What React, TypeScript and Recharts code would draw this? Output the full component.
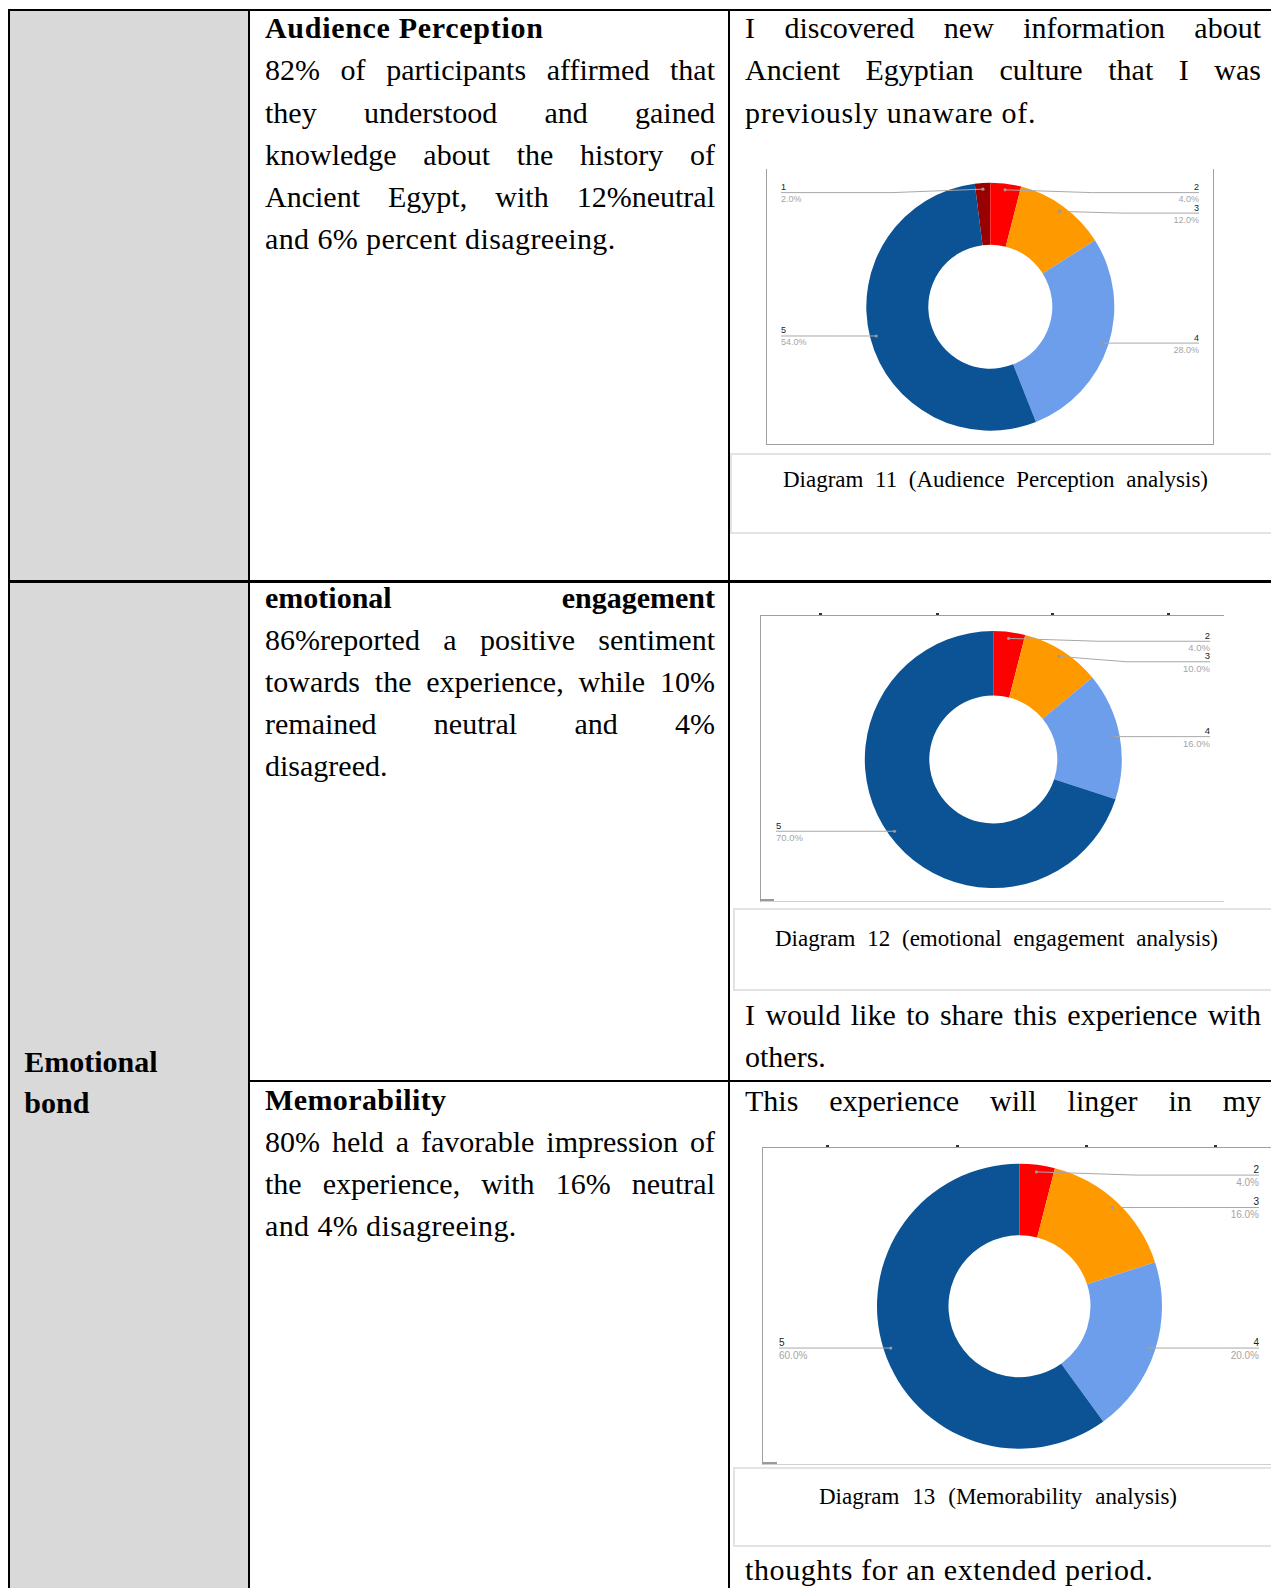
import React from 'react';
import { PieChart, Pie, Cell } from 'recharts';

// rating buckets and their shares (%) per diagram
const RATINGS_11 = ['1', '2', '3', '4', '5'];
const SHARES_11 = [2, 4, 12, 28, 54];

const RATINGS_12 = ['2', '3', '4', '5'];
const SHARES_12 = [4, 10, 16, 70];

const RATINGS_13 = ['2', '3', '4', '5'];
const SHARES_13 = [4, 16, 20, 60];

const RATING_COLORS: Record<string, string> = {
  '1': '#990000',
  '2': '#ff0000',
  '3': '#ff9900',
  '4': '#6d9eeb',
  '5': '#0b5394',
};

type Layout = {
  width: number;
  height: number;
  cx: number;
  cy: number;
  outer: number;
  inner: number;
  leftX: number;
  rightX: number;
  startAngle: number;
  fontSize: number;
};

// y of each leader line, pushed apart like google sheets does
function labelYs(values: number[], lay: Layout): number[] {
  const total = values.reduce((a, b) => a + b, 0);
  const r = lay.outer * 0.95;
  let acc = 0;
  const pts = values.map((v, i) => {
    const mid = lay.startAngle - ((acc + v / 2) / total) * 360;
    acc += v;
    const rad = (mid * Math.PI) / 180;
    return { i, x: lay.cx + r * Math.cos(rad), y: lay.cy - r * Math.sin(rad) };
  });
  const minY = lay.cy - lay.outer * 0.92;
  const out: number[] = [];
  [true, false].forEach((right) => {
    let prev = -Infinity;
    pts
      .filter((p) => p.x > lay.cx === right)
      .sort((a, b) => a.y - b.y)
      .forEach((p) => {
        const y = Math.max(p.y, minY, prev + 20.5);
        out[p.i] = y;
        prev = y;
      });
  });
  return out;
}

function makeLabel(names: string[], values: number[], lay: Layout) {
  const ys = labelYs(values, lay);
  return (props: any) => {
    const { cx, cy, midAngle, outerRadius, index, percent } = props;
    const rad = (midAngle * Math.PI) / 180;
    const r = outerRadius * 0.95;
    const dx = cx + r * Math.cos(rad);
    const dy = cy - r * Math.sin(rad);
    const right = dx > cx;
    const edge = right ? lay.rightX : lay.leftX;
    const ly = ys[index];
    const elbow = dx + (edge - dx) * 0.45;
    const anchor = right ? 'end' : 'start';
    return (
      <g key={`lbl-${index}`}>
        <polyline
          points={`${dx},${dy} ${elbow},${ly} ${edge},${ly}`}
          fill="none"
          stroke="#a8a8a8"
          strokeWidth={1}
        />
        <circle cx={dx} cy={dy} r={1.6} fill="#9a9a9a" />
        <text
          x={edge}
          y={ly - 2.5}
          textAnchor={anchor}
          fontSize={lay.fontSize}
          fill="#222"
          fontFamily="'Liberation Sans', Arial"
        >
          {names[index]}
        </text>
        <text
          x={edge}
          y={ly + lay.fontSize + 0.5}
          textAnchor={anchor}
          fontSize={lay.fontSize}
          fill="#a5a5a5"
          fontFamily="'Liberation Sans', Arial"
        >
          {(percent * 100).toFixed(1)}%
        </text>
      </g>
    );
  };
}

function Donut({ names, values, lay }: { names: string[]; values: number[]; lay: Layout }) {
  const data = names.map((n, i) => ({ name: n, value: values[i] }));
  return (
    <PieChart width={lay.width} height={lay.height} margin={{ top: 0, right: 0, bottom: 0, left: 0 }}>
      <Pie
        data={data}
        dataKey="value"
        nameKey="name"
        cx={lay.cx}
        cy={lay.cy}
        innerRadius={lay.inner}
        outerRadius={lay.outer}
        startAngle={lay.startAngle}
        endAngle={lay.startAngle - 360}
        stroke="none"
        labelLine={false}
        label={makeLabel(names, values, lay)}
        isAnimationActive={false}
      >
        {data.map((d) => (
          <Cell key={`c-${d.name}`} fill={RATING_COLORS[d.name]} />
        ))}
      </Pie>
    </PieChart>
  );
}

const sum11 = SHARES_11.reduce((a, b) => a + b, 0);

const LAY_11: Layout = {
  width: 446,
  height: 275,
  cx: 223.3,
  cy: 137.7,
  outer: 124,
  inner: 62,
  leftX: 14,
  rightX: 432,
  startAngle: 90 + (SHARES_11[0] / sum11) * 360,
  fontSize: 9,
};

const LAY_12: Layout = {
  width: 463,
  height: 285,
  cx: 232.3,
  cy: 143.5,
  outer: 128.5,
  inner: 64,
  leftX: 15,
  rightX: 449,
  startAngle: 90,
  fontSize: 9.5,
};

const LAY_13: Layout = {
  width: 509,
  height: 316,
  cx: 256.5,
  cy: 158.2,
  outer: 142.5,
  inner: 71,
  leftX: 16,
  rightX: 496,
  startAngle: 90,
  fontSize: 10,
};

function TextLine({
  x,
  w,
  base,
  text,
  bold,
  justify,
  size = 30,
  spacing = 0.4,
}: {
  x: number;
  w: number;
  base: number;
  text: string;
  bold?: boolean;
  justify?: boolean;
  size?: number;
  spacing?: number;
}) {
  const lh = size * 1.4;
  const top = base - ((lh - 1.107 * size) / 2 + 0.891 * size);
  return (
    <div
      style={{
        position: 'absolute',
        left: x,
        top,
        width: w,
        height: lh,
        lineHeight: `${lh}px`,
        fontSize: size,
        fontWeight: bold ? 700 : 400,
        letterSpacing: justify ? 0 : spacing,
        textAlign: justify ? 'justify' : 'left',
        textAlignLast: justify ? 'justify' : 'left',
        color: '#000',
      }}
    >
      {text}
    </div>
  );
}

const box = (left: number, top: number, width: number, height: number, bg: string) => (
  <div style={{ position: 'absolute', left, top, width, height, background: bg }} />
);

// little leftover marks sitting on the chart frames
const ticks = (xs: number[], y: number) =>
  xs.map((x) => <div key={`t-${x}-${y}`} style={{ position: 'absolute', left: x, top: y, width: 3, height: 2, background: '#333' }} />);

export default function App() {
  const MX = 265;
  const MW = 450;
  const RX = 745;
  const RW = 516;
  const step = 42.1;
  return (
    <div
      style={{
        position: 'absolute',
        left: 0,
        top: 0,
        width: 1271,
        height: 1588,
        overflow: 'hidden',
        background: '#fff',
        fontFamily: "'Liberation Serif', 'Times New Roman', serif",
      }}
    >
      {/* grey first column */}
      {box(10, 11, 238, 1577, '#d9d9d9')}

      {/* table rules */}
      {box(8, 9, 1263, 2, '#000')}
      {box(8, 9, 2, 1579, '#000')}
      {box(248, 9, 2, 1579, '#000')}
      {box(727.5, 9, 2, 1579, '#000')}
      {box(8, 580, 1263, 2.5, '#000')}
      {box(248, 1079.5, 1023, 2.5, '#000')}

      {/* middle column, row 1 */}
      <TextLine x={MX} w={MW} base={38.5} text="Audience Perception" bold spacing={0.7} />
      <TextLine x={MX} w={MW} base={38.5 + step} text="82% of participants affirmed that" justify />
      <TextLine x={MX} w={MW} base={38.5 + step * 2} text="they understood and gained" justify />
      <TextLine x={MX} w={MW} base={38.5 + step * 3} text="knowledge about the history of" justify />
      <TextLine x={MX} w={MW} base={38.5 + step * 4} text="Ancient Egypt, with 12%neutral" justify />
      <TextLine x={MX} w={MW} base={38.5 + step * 5} text="and 6% percent disagreeing." />

      {/* middle column, row 2 */}
      <TextLine x={MX} w={MW} base={607.7} text="emotional engagement" bold justify />
      <TextLine x={MX} w={MW} base={607.7 + step} text="86%reported a positive sentiment" justify />
      <TextLine x={MX} w={MW} base={607.7 + step * 2} text="towards the experience, while 10%" justify />
      <TextLine x={MX} w={MW} base={607.7 + step * 3} text="remained neutral and 4%" justify />
      <TextLine x={MX} w={MW} base={607.7 + step * 4} text="disagreed." spacing={0} />

      {/* middle column, row 3 */}
      <TextLine x={MX} w={MW} base={1110} text="Memorability" bold />
      <TextLine x={MX} w={MW} base={1110 + step} text="80% held a favorable impression of" justify />
      <TextLine x={MX} w={MW} base={1110 + step * 2} text="the experience, with 16% neutral" justify />
      <TextLine x={MX} w={MW} base={1110 + step * 3} text="and 4% disagreeing." />

      {/* left merged cell */}
      <TextLine x={24.3} w={220} base={1071.7} text="Emotional" bold spacing={0} />
      <TextLine x={24.3} w={220} base={1113} text="bond" bold spacing={0} />

      {/* right column, row 1 */}
      <TextLine x={RX} w={RW} base={38.5} text="I discovered new information about" justify />
      <TextLine x={RX} w={RW} base={38.5 + step} text="Ancient Egyptian culture that I was" justify />
      <TextLine x={RX} w={RW} base={38.5 + step * 2} text="previously unaware of." spacing={0.7} />

      {/* diagram 11 */}
      <div
        style={{
          position: 'absolute',
          left: 766,
          top: 169,
          width: 446,
          height: 275,
          borderLeft: '1px solid #a0a0a0',
          borderRight: '1px solid #a0a0a0',
          borderBottom: '1px solid #a0a0a0',
        }}
      >
        <Donut names={RATINGS_11} values={SHARES_11} lay={LAY_11} />
      </div>
      <div
        style={{
          position: 'absolute',
          left: 730,
          top: 453,
          width: 560,
          height: 77,
          border: '2px solid #e3e3e3',
        }}
      />
      <TextLine x={783} w={425} base={488} size={23} text="Diagram 11 (Audience Perception analysis)" justify />

      {/* diagram 12 */}
      {ticks([819, 936, 1051, 1167], 613)}
      <div
        style={{
          position: 'absolute',
          left: 760,
          top: 615,
          width: 463,
          height: 285,
          borderTop: '1px solid #a0a0a0',
          borderLeft: '1px solid #a0a0a0',
          borderBottom: '1px solid #d0d0d0',
        }}
      >
        <Donut names={RATINGS_12} values={SHARES_12} lay={LAY_12} />
      </div>
      {box(760, 899, 14, 2, '#9a9a9a')}
      <div
        style={{
          position: 'absolute',
          left: 732.5,
          top: 907.5,
          width: 560,
          height: 79,
          border: '2px solid #e3e3e3',
        }}
      />
      <TextLine x={775} w={443} base={947} size={23} text="Diagram 12 (emotional engagement analysis)" justify />
      <TextLine x={RX} w={RW} base={1025} text="I would like to share this experience with" justify />
      <TextLine x={RX} w={RW} base={1067.5} text="others." spacing={0} />

      {/* right column, row 3 */}
      <TextLine x={RX} w={RW} base={1111} text="This experience will linger in my" justify />

      {/* diagram 13 */}
      {ticks([826, 956, 1085, 1214], 1145)}
      <div
        style={{
          position: 'absolute',
          left: 762,
          top: 1147,
          width: 520,
          height: 316,
          borderTop: '1px solid #a0a0a0',
          borderLeft: '1px solid #a0a0a0',
          borderBottom: '1px solid #d0d0d0',
        }}
      >
        <Donut names={RATINGS_13} values={SHARES_13} lay={LAY_13} />
      </div>
      {box(762, 1462, 15, 2, '#9a9a9a')}
      <div
        style={{
          position: 'absolute',
          left: 733,
          top: 1467,
          width: 560,
          height: 76,
          border: '2px solid #e3e3e3',
        }}
      />
      <TextLine x={819} w={358} base={1505} size={23} text="Diagram 13 (Memorability analysis)" justify />
      <TextLine x={RX} w={RW} base={1580} text="thoughts for an extended period." spacing={0.6} />
    </div>
  );
}
